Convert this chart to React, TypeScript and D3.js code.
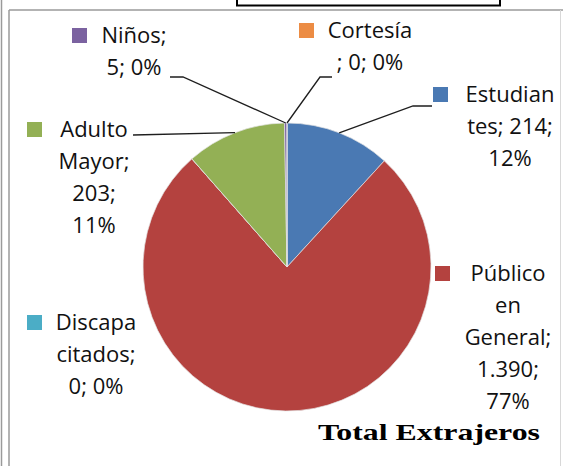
import React from 'react';
import * as d3 from 'd3';

const categories = ['Estudiantes', 'Público en General', 'Discapacitados', 'Adulto Mayor', 'Niños', 'Cortesía'];
const values = [214, 1390, 0, 203, 5, 0];
const colors = ['#4a79b3', '#b4423f', '#4badc6', '#93b055', '#7b62a0', '#ec8c44'];
const title = 'Total Extrajeros';

// where each data label wraps (char index), where it sits, and its leader elbow
const labelLayout = [
  {breaks: [8, 17], cx: 510, y: 102, keyX: 433, leader: [[432, 106], [413, 106]]},
  {breaks: [7, 10, 19, 26], cx: 508, y: 281, keyX: 435, leader: []},
  {breaks: [7, 15], cx: 96, y: 330, keyX: 27, leader: []},
  {breaks: [6, 13, 18], cx: 94, y: 137, keyX: 27, leader: [[133, 135]]},
  {breaks: [6], cx: 134, y: 43, keyX: 72, leader: [[170, 77], [183, 77]]},
  {breaks: [8], cx: 370, y: 38, keyX: 299, leader: [[332, 77], [320, 77]]},
];

const W = 563;
const H = 466;
const cx = 287;
const cy = 267;
const r = 144;
const lineH = 32;

const esFmt = d3.formatLocale({decimal: ',', thousands: '.', grouping: [3], currency: ['', '']}).format(',d');

function splitAt(s: string, idx: number[]) {
  const out: string[] = [];
  let prev = 0;
  idx.forEach(i => { out.push(s.slice(prev, i).trim()); prev = i; });
  out.push(s.slice(prev).trim());
  return out;
}

export default function App() {
  const total = d3.sum(values);
  const pie = d3.pie<number>().sort(null).value(d => d)(values);
  const arc = d3.arc<d3.PieArcDatum<number>>().innerRadius(0).outerRadius(r);
  const line = d3.line();

  return (
    <svg width={W} height={H} style={{position: 'absolute', left: 0, top: 0, background: '#fff'}}>
      {/* frame */}
      <line x1={1.5} y1={0} x2={1.5} y2={H} stroke="#9a9a9a" strokeWidth={1.5} />
      <line x1={9} y1={10} x2={9} y2={H} stroke="#9a9a9a" strokeWidth={1.5} />
      <line x1={9} y1={10} x2={W} y2={10} stroke="#9a9a9a" strokeWidth={1.5} />
      <line x1={560.5} y1={10} x2={560.5} y2={H} stroke="#d8d8d8" strokeWidth={1} />
      <rect x={237} y={-4} width={263} height={9.5} fill="none" stroke="#000" strokeWidth={2} />

      <g transform={`translate(${cx},${cy})`}>
        {pie.map((d, i) => (
          <path key={i} d={arc(d) || ''} fill={colors[i]} stroke="#e4e4e4" strokeWidth={0.7} />
        ))}
      </g>

      {pie.map((d, i) => {
        const lay = labelLayout[i];
        if (!lay.leader.length) return null;
        const a = (d.startAngle + d.endAngle) / 2;
        const pts = [...lay.leader, [cx + r * Math.sin(a), cy - r * Math.cos(a)]] as [number, number][];
        return <path key={i} d={line(pts) || ''} fill="none" stroke="#1e1e1e" strokeWidth={1.3} />;
      })}

      {categories.map((c, i) => {
        const lay = labelLayout[i];
        const pct = Math.round((values[i] / total) * 100) + '%';
        const lines = splitAt(`${c}; ${esFmt(values[i])}; ${pct}`, lay.breaks);
        return (
          <g key={i} fontFamily="'Open Sans', sans-serif" fontSize={22} fontWeight={500} fill="#111">
            <rect x={lay.keyX} y={lay.y - 15} width={15} height={15} fill={colors[i]} />
            {lines.map((t, j) => (
              <text key={j} x={lay.cx} y={lay.y + j * lineH} textAnchor="middle">{t}</text>
            ))}
          </g>
        );
      })}

      <text x={318} y={440} fontFamily="'Liberation Serif', serif" fontWeight="bold" fontSize={23}
        textLength={222} lengthAdjust="spacingAndGlyphs" fill="#000">{title}</text>
    </svg>
  );
}
